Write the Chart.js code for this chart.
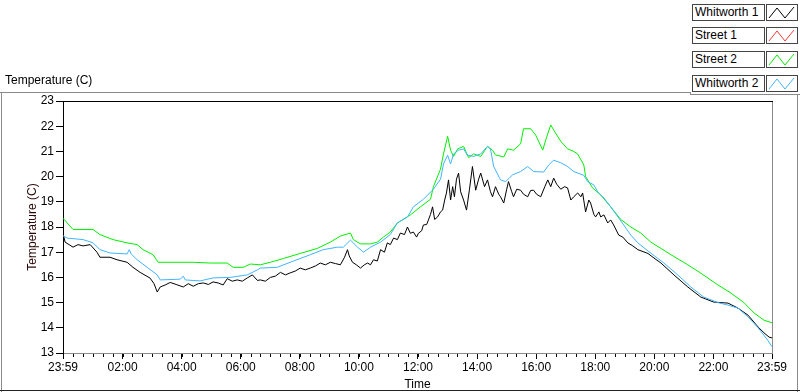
<!DOCTYPE html>
<html><head><meta charset="utf-8">
<script src="https://cdn.jsdelivr.net/npm/chart.js@4/dist/chart.umd.min.js"></script>
<style>
html,body{margin:0;padding:0;background:#fff;}
#wrap{position:relative;width:800px;height:392px;overflow:hidden;background:#fff;font-family:"Liberation Sans",Arial,sans-serif;}
#c{position:absolute;left:0;top:0;}
.ln{position:absolute;}
#title{position:absolute;left:5px;top:73px;font-size:12px;color:#000;}
.lgText{position:absolute;left:692px;width:69px;height:15px;border:1px solid #444;background:#fff;font-size:12px;line-height:15px;padding-left:2px;box-sizing:content-box;color:#000;}
.lgSw{position:absolute;left:766px;width:30px;height:15px;border:1px solid #444;background:#fff;}
</style>
</head>
<body>
<div id="wrap">
  <canvas id="c" width="800" height="392"></canvas>
  <div id="title">Temperature (C)</div>
  <div class="ln" style="left:0;top:92px;width:690px;height:1px;background:#8a8a8a"></div>
  <div class="ln" style="left:690px;top:92px;width:1px;height:3px;background:#8a8a8a"></div>
  <div class="ln" style="left:690px;top:94px;width:110px;height:1px;background:#8a8a8a"></div>
  <div class="ln" style="left:1px;top:92px;width:1px;height:300px;background:#8a8a8a"></div>
  <div class="ln" style="left:797px;top:94px;width:1px;height:298px;background:#8a8a8a"></div>
  <div class="ln" style="left:0;top:390px;width:800px;height:1px;background:#222"></div>
  <div id="legend"></div>
</div>
<script>
// ---- data (x = hours elapsed since 23:59 start) ----
const seriesNames = ["Whitworth 1", "Street 1", "Street 2", "Whitworth 2"];
const seriesColors = ["#000000", "#ff3a3a", "#00f000", "#40b4ff"];

const xTickHours = [0, 2.0167, 4.0167, 6.0167, 8.0167, 10.0167, 12.0167, 14.0167, 16.0167, 18.0167, 20.0167, 22.0167, 24];
const xTickLabels = ["23:59","02:00","04:00","06:00","08:00","10:00","12:00","14:00","16:00","18:00","20:00","22:00","23:59"];
const yTicks = [13,14,15,16,17,18,19,20,21,22,23];

const whitworth1Time = [0,0.07,0.34,0.51,0.68,0.92,1.15,1.25,1.59,1.83,2.17,2.37,2.61,2.95,3.08,3.19,3.29,3.46,3.63,3.83,4.07,4.24,4.41,4.58,4.75,4.92,5.08,5.25,5.42,5.56,5.73,5.90,6.07,6.24,6.41,6.58,6.68,6.85,7.02,7.19,7.36,7.53,7.69,7.86,8.03,8.20,8.37,8.54,8.71,8.88,9.05,9.22,9.39,9.53,9.63,9.69,9.80,9.93,10.07,10.20,10.31,10.41,10.51,10.64,10.75,10.88,10.98,11.08,11.19,11.32,11.42,11.56,11.66,11.76,11.86,11.97,12.03,12.14,12.20,12.31,12.37,12.44,12.51,12.58,12.68,12.78,12.85,12.92,12.98,13.05,13.12,13.19,13.25,13.32,13.39,13.46,13.56,13.66,13.76,13.86,13.97,14.07,14.14,14.27,14.37,14.47,14.54,14.64,14.75,14.81,14.92,15.02,15.08,15.19,15.25,15.36,15.49,15.59,15.73,15.83,15.93,16.03,16.17,16.31,16.41,16.51,16.61,16.71,16.85,16.98,17.08,17.19,17.29,17.42,17.53,17.59,17.69,17.80,17.86,17.97,18.03,18.14,18.20,18.31,18.44,18.54,18.64,18.81,18.95,19.12,19.29,19.46,19.80,19.97,20.24,20.68,21.15,21.59,22.03,22.51,22.85,23.19,23.53,23.73,23.90,24.0];
const whitworth1Temp = [17.76,17.4,17.2,17.3,17.25,17.3,17.0,16.8,16.8,16.7,16.6,16.4,16.2,15.97,15.75,15.42,15.62,15.7,15.8,15.72,15.62,15.75,15.65,15.75,15.78,15.72,15.82,15.78,15.7,15.95,15.85,15.9,15.85,15.98,16.1,15.88,15.9,15.85,16.0,16.05,16.2,16.1,16.18,16.25,16.37,16.3,16.37,16.45,16.57,16.5,16.6,16.55,16.5,16.8,17.1,16.85,16.6,16.5,16.37,16.5,16.57,16.5,16.7,16.65,17.1,17.0,17.37,17.3,17.56,17.5,17.76,17.7,18.0,17.75,17.8,17.6,17.75,17.85,18.08,18.1,18.28,18.5,18.8,18.3,18.4,18.6,18.67,19.07,19.35,19.87,19.07,19.6,19.2,19.9,20.14,19.4,19.07,18.67,19.5,20.4,19.46,19.9,20.14,19.6,19.87,19.4,19.2,19.6,19.3,19.2,18.95,19.5,19.8,19.4,19.2,19.5,19.46,19.3,19.2,19.45,19.46,19.3,19.2,19.6,19.87,19.6,19.94,19.7,19.5,19.6,19.55,19.07,19.2,19.35,19.2,19.35,18.6,19.07,18.95,18.5,18.4,18.6,18.4,18.48,18.16,18.28,18.08,17.68,17.6,17.37,17.25,17.1,16.95,16.8,16.57,16.1,15.62,15.22,15.02,14.98,14.78,14.5,14.03,13.8,13.63,13.6];

const street1Time = [];
const street1Temp = [];

const street2Time = [0,0.34,1.02,1.25,1.69,2.17,2.51,2.71,3.05,3.22,4.41,4.98,5.56,5.76,6.10,6.34,6.68,7.02,7.46,8.03,8.61,9.05,9.39,9.73,9.83,10.07,10.41,10.64,10.85,11.08,11.32,11.76,12.10,12.44,12.54,12.78,12.88,13.02,13.12,13.22,13.36,13.56,13.73,13.90,14.14,14.37,14.54,14.64,14.92,15.05,15.25,15.49,15.59,15.83,16.0,16.24,16.34,16.51,16.61,16.85,17.08,17.29,17.42,17.63,17.69,17.93,18.20,18.54,18.88,19.22,19.56,19.90,20.24,20.58,21.15,21.59,22.17,22.61,23.05,23.39,23.73,24.0];
const street2Temp = [18.35,17.9,17.9,17.7,17.5,17.37,17.3,17.1,16.9,16.6,16.6,16.57,16.57,16.4,16.4,16.53,16.5,16.6,16.75,16.95,17.15,17.4,17.64,17.76,17.5,17.33,17.33,17.4,17.6,17.8,18.16,18.48,18.8,19.1,19.6,20.3,20.9,21.6,21.05,20.8,21.1,21.2,20.75,20.9,20.8,21.2,21.05,20.86,20.78,21.1,21.05,21.3,21.9,21.9,21.65,21.05,21.45,22.05,21.85,21.4,21.1,21.0,20.9,20.46,20.0,19.55,19.27,18.8,18.3,18.0,17.76,17.4,17.15,16.9,16.5,16.17,15.7,15.38,15.0,14.59,14.3,14.2];

const whitworth2Time = [0,0.14,0.68,1.02,1.25,1.59,2.17,2.24,2.31,2.51,2.85,3.19,3.29,3.97,4.07,4.14,4.64,5.08,5.66,6.24,6.58,6.68,7.25,7.69,8.37,8.81,9.29,9.49,9.73,9.97,10.17,10.41,10.75,11.08,11.32,11.66,11.86,12.20,12.54,12.78,12.88,13.02,13.12,13.22,13.39,13.56,13.69,13.90,14.14,14.37,14.47,14.58,14.81,14.98,15.22,15.49,15.73,15.93,16.27,16.44,16.61,16.85,17.08,17.29,17.63,17.76,17.97,18.10,18.31,18.54,18.81,18.98,19.22,19.46,19.80,20.14,20.34,20.81,21.25,21.69,22.17,22.51,22.85,23.19,23.53,23.86,24.0];
const whitworth2Temp = [17.65,17.56,17.5,17.37,17.1,16.97,16.93,17.1,16.93,16.7,16.4,16.1,15.9,15.93,16.05,15.9,15.86,15.98,16.0,16.1,16.3,16.37,16.4,16.6,16.9,17.1,17.2,17.2,17.48,17.2,17.0,17.2,17.4,17.7,18.16,18.4,18.8,19.1,19.5,19.9,20.5,20.85,20.5,20.9,21.05,21.1,20.85,20.8,20.9,21.2,21.1,20.4,19.87,19.8,20.07,20.2,20.4,20.2,20.18,20.46,20.65,20.55,20.4,20.2,20.05,19.8,19.67,19.4,19.15,18.8,18.36,18.08,17.68,17.37,17.05,16.75,16.57,16.1,15.62,15.22,15.0,14.9,14.78,14.43,14.0,13.5,13.25];

// ---- legend ----
const lgTops = [4, 27, 51, 75];
const legend = document.getElementById('legend');
seriesNames.forEach((n, i) => {
  const t = document.createElement('div');
  t.className = 'lgText'; t.style.top = lgTops[i] + 'px'; t.textContent = n;
  legend.appendChild(t);
  const s = document.createElement('div');
  s.className = 'lgSw'; s.style.top = lgTops[i] + 'px';
  s.innerHTML = '<svg width="30" height="15"><polyline points="2,13 10,3 18,13 27,2" fill="none" stroke="' + seriesColors[i] + '" stroke-width="1"/></svg>';
  legend.appendChild(s);
});

const pairs = (t, v) => t.map((x, i) => ({x: x, y: v[i]}));
const seriesData = [pairs(whitworth1Time, whitworth1Temp), pairs(street1Time, street1Temp), pairs(street2Time, street2Temp), pairs(whitworth2Time, whitworth2Temp)];
// draw order: blue, green, red, black on top
const drawOrder = [3, 2, 1, 0];

const framePlugin = {
  id: 'frame',
  afterDraw(chart) {
    const ctx = chart.ctx, a = chart.chartArea, xs = chart.scales.x;
    ctx.save();
    ctx.lineWidth = 1;
    ctx.strokeStyle = '#000';
    ctx.beginPath(); ctx.moveTo(a.left, a.top + 0.5); ctx.lineTo(a.right + 1, a.top + 0.5); ctx.stroke();
    ctx.strokeStyle = '#8a8a8a';
    ctx.beginPath(); ctx.moveTo(Math.round(a.right) + 0.5, a.top + 1); ctx.lineTo(Math.round(a.right) + 0.5, a.bottom); ctx.stroke();
    // minor ticks every 20 minutes
    ctx.strokeStyle = '#000';
    ctx.beginPath();
    for (let m = 1; m < 24 * 60; m += 20) {
      const h = m / 60;
      const px = Math.round(xs.getPixelForValue(h)) + 0.5;
      ctx.moveTo(px, a.bottom + 1); ctx.lineTo(px, a.bottom + 4);
    }
    ctx.stroke();
    ctx.restore();
  }
};

new Chart(document.getElementById('c'), {
  type: 'line',
  data: {
    datasets: drawOrder.map(i => ({
      label: seriesNames[i],
      data: seriesData[i],
      borderColor: seriesColors[i],
      borderWidth: 1,
      pointRadius: 0,
      tension: 0,
      fill: false
    }))
  },
  options: {
    responsive: false,
    animation: false,
    events: [],
    layout: { padding: { left: 0, right: 28, top: 101, bottom: 0 } },
    plugins: { legend: { display: false }, tooltip: { enabled: false } },
    scales: {
      x: {
        type: 'linear', min: 0, max: 24,
        afterFit(s) { s.height = 39; },
        afterBuildTicks(s) { s.ticks = xTickHours.map(v => ({ value: v })); },
        ticks: {
          autoSkip: false, maxRotation: 0, minRotation: 0, padding: 1,
          color: '#000', font: { family: 'Liberation Sans', size: 12 },
          callback: (v, i) => xTickLabels[i]
        },
        grid: { drawOnChartArea: false, drawTicks: true, tickLength: 6, tickColor: '#000' },
        border: { display: true, color: '#8a8a8a', width: 1 },
        title: { display: true, text: 'Time', color: '#000', font: { family: 'Liberation Sans', size: 12 }, padding: { top: 0, bottom: 0 } }
      },
      y: {
        type: 'linear', min: 13, max: 23,
        afterFit(s) { s.width = 63; },
        afterBuildTicks(s) { s.ticks = yTicks.map(v => ({ value: v })); },
        ticks: { padding: 2, color: '#000', font: { family: 'Liberation Sans', size: 12 } },
        grid: { drawOnChartArea: false, drawTicks: true, tickLength: 7, tickColor: '#000' },
        border: { display: true, color: '#000', width: 1 },
        title: { display: true, text: 'Temperature (C)', color: '#2a0606', font: { family: 'Liberation Sans', size: 12 }, padding: { top: 25, bottom: 0 } }
      }
    }
  },
  plugins: [framePlugin]
});
</script>
</body></html>
